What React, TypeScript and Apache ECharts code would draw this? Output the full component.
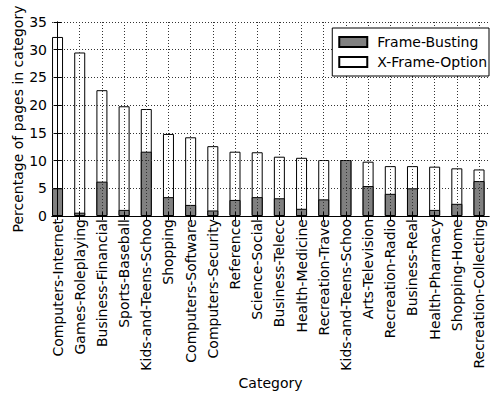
import React, { useEffect, useRef } from "react";
import * as echarts from "echarts";

// Web categories, ordered by overall share of pages
const categories: string[] = [
  "Computers-Internet",
  "Games-Roleplaying",
  "Business-Financial",
  "Sports-Baseball",
  "Kids-and-Teens-Schoo",
  "Shopping",
  "Computers-Software",
  "Computers-Security",
  "Reference",
  "Science-Social",
  "Business-Telecc",
  "Health-Medicine",
  "Recreation-Trave",
  "Kids-and-Teens-Schoo",
  "Arts-Television",
  "Recreation-Radio",
  "Business-Real",
  "Health-Pharmacy",
  "Shopping-Home",
  "Recreation-Collecting",
];

// Percentage of pages using frame-busting code
const frameBusting: number[] = [
  5.0, 0.6, 6.2, 1.1, 11.6, 3.4, 2.0, 1.0, 2.9, 3.4,
  3.2, 1.3, 3.0, 10.1, 5.4, 4.0, 5.0, 1.1, 2.2, 6.3,
];

// Additional percentage using the X-Frame-Options header (sits on top)
const xFrameOption: number[] = [
  27.3, 28.9, 16.5, 18.7, 7.7, 11.4, 12.2, 11.6, 8.7, 8.1,
  7.5, 9.2, 7.1, 0.0, 4.4, 5.0, 4.0, 7.8, 6.4, 2.1,
];

const yTicks: number[] = [0, 5, 10, 15, 20, 25, 30, 35];

const FONT = "DejaVu Sans";
const positions = categories.map((_, i) => i);
// Outline of the combined column; the frame-busting part is drawn over its base
const combined = frameBusting.map((v, i) => +(v + xFrameOption[i]).toFixed(2));

export default function App() {
  const ref = useRef<HTMLDivElement>(null);

  useEffect(() => {
    if (!ref.current) return;
    const chart = echarts.init(ref.current, null, { renderer: "svg" });

    const gridLine = {
      show: true,
      lineStyle: { color: "#333", width: 1, type: [1, 2] as number[] },
    };

    chart.setOption({
      animation: false,
      backgroundColor: "#fff",
      textStyle: { fontFamily: FONT, color: "#000" },
      grid: { left: 52, right: 4, top: 22, bottom: 179, containLabel: false },
      legend: {
        orient: "vertical",
        right: 4,
        top: 28,
        data: ["Frame-Busting", "X-Frame-Option"],
        icon: "rect",
        itemWidth: 28,
        itemHeight: 10,
        itemGap: 6,
        padding: [7, 2, 7, 6],
        borderColor: "#000",
        borderWidth: 1,
        borderRadius: 0,
        backgroundColor: "#fff",
        z: 10,
        textStyle: {
          fontFamily: FONT,
          fontSize: 14,
          color: "#000",
          lineHeight: 14,
          padding: [0, 0, 0, 5],
        },
      },
      xAxis: [
        {
          type: "value",
          position: "bottom",
          min: -0.25,
          max: 19.45,
          z: 3,
          name: "Category",
          nameLocation: "middle",
          nameGap: 160,
          nameMoveOverlap: false,
          nameTextStyle: { fontFamily: FONT, fontSize: 14, color: "#000" },
          axisLine: { show: true, lineStyle: { color: "#000", width: 1 } },
          axisTick: {
            show: true,
            inside: true,
            length: 4,
            customValues: positions,
            lineStyle: { color: "#000" },
          },
          axisLabel: {
            show: true,
            rotate: 90,
            margin: 3,
            fontFamily: FONT,
            fontSize: 14,
            color: "#000",
            customValues: positions,
            formatter: (v: number) => categories[Math.round(v)] ?? "",
          },
          splitLine: gridLine,
        },
        {
          type: "value",
          position: "top",
          min: -0.25,
          max: 19.45,
          z: 3,
          axisLine: { show: true, lineStyle: { color: "#000", width: 1 } },
          axisTick: {
            show: true,
            inside: true,
            length: 4,
            customValues: positions,
            lineStyle: { color: "#000" },
          },
          axisLabel: { show: false },
          splitLine: { show: false },
        },
      ],
      yAxis: [
        {
          type: "value",
          position: "left",
          min: yTicks[0],
          max: yTicks[yTicks.length - 1],
          interval: 5,
          z: 3,
          name: "Percentage of pages in category",
          nameLocation: "middle",
          nameGap: 27,
          nameMoveOverlap: false,
          nameTextStyle: { fontFamily: FONT, fontSize: 14, color: "#000" },
          axisLine: { show: true, lineStyle: { color: "#000", width: 1 } },
          axisTick: { show: true, inside: true, length: 4, lineStyle: { color: "#000" } },
          axisLabel: { fontFamily: FONT, fontSize: 14, color: "#000", margin: 5 },
          splitLine: gridLine,
        },
        {
          type: "value",
          position: "right",
          min: yTicks[0],
          max: yTicks[yTicks.length - 1],
          interval: 5,
          z: 3,
          axisLine: { show: true, lineStyle: { color: "#000", width: 1 } },
          axisTick: { show: true, inside: true, length: 4, lineStyle: { color: "#000" } },
          axisLabel: { show: false },
          splitLine: { show: false },
        },
      ],
      series: [
        {
          name: "X-Frame-Option",
          type: "bar",
          xAxisIndex: 0,
          yAxisIndex: 0,
          barWidth: 11,
          barGap: "-100%",
          z: 2,
          itemStyle: { color: "#fff", borderColor: "#000", borderWidth: 1 },
          data: combined.map((v, i) => [positions[i], v]),
        },
        {
          name: "Frame-Busting",
          type: "bar",
          xAxisIndex: 0,
          yAxisIndex: 0,
          barWidth: 11,
          barGap: "-100%",
          z: 2.5,
          itemStyle: { color: "#808080", borderColor: "#000", borderWidth: 1 },
          data: frameBusting.map((v, i) => [positions[i], v]),
        },
      ],
    });

    return () => chart.dispose();
  }, []);

  return <div ref={ref} style={{ width: 493, height: 395, position: "absolute", left: 0, top: 0 }} />;
}
